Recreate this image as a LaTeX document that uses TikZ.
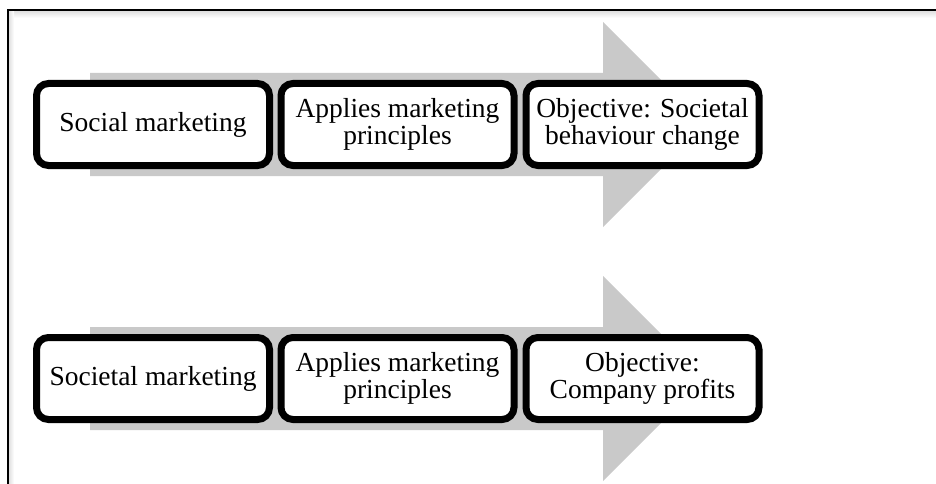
\documentclass[tikz,border=0pt]{standalone}
\usepackage{fontspec}
\setmainfont{Liberation Serif}
\usepackage{tikz}
\usetikzlibrary{shadows}
\tikzstyle{stagebox} = [rectangle, rounded corners=12pt, draw=black, line width=7pt, fill=white, minimum width=233pt, minimum height=82pt, align=center, font=\fontsize{27.5}{26.5}\selectfont, drop shadow={shadow xshift=2pt, shadow yshift=-3pt, opacity=0.3}]
\tikzstyle{flow} = [fill=black!21, draw=none]
\usepackage{xcolor}

\begin{document}
\begin{tikzpicture}[x=1pt, y=-1pt]

        \useasboundingbox (0,0) rectangle (936,484);
        \clip (0,0) rectangle (936,484);

        % frame
        \fill[top color=black!14, bottom color=white] (8,10) rectangle (936,18);
        \fill[left color=black!14, right color=white] (8,10) rectangle (14,484);
        \draw[line width=1.6pt] (940,10) -- (8,10) -- (8,490);

        % gray arrows
        \fill[flow] (90,73) -- (603,73) -- (603,22) -- (705.5,124.5) -- (603,227) -- (603,176) -- (90,176) -- cycle;
        \fill[flow] (90,327) -- (603,327) -- (603,276) -- (705.5,378.5) -- (603,481) -- (603,430) -- (90,430) -- cycle;

        \node (social) [stagebox] at (153,124.5) {Social marketing};
        \node (socialapplies) [stagebox] at (397.5,124.5) {Applies marketing\\principles};
        \node (socialobjective) [stagebox] at (642.5,124.5) {Objective: Societal\\behaviour change};

        \node (societal) [stagebox] at (153,378.5) {Societal marketing};
        \node (societalapplies) [stagebox] at (397.5,378.5) {Applies marketing\\principles};
        \node (societalobjective) [stagebox] at (642.5,378.5) {Objective:\\Company profits};

\end{tikzpicture}
\end{document}
